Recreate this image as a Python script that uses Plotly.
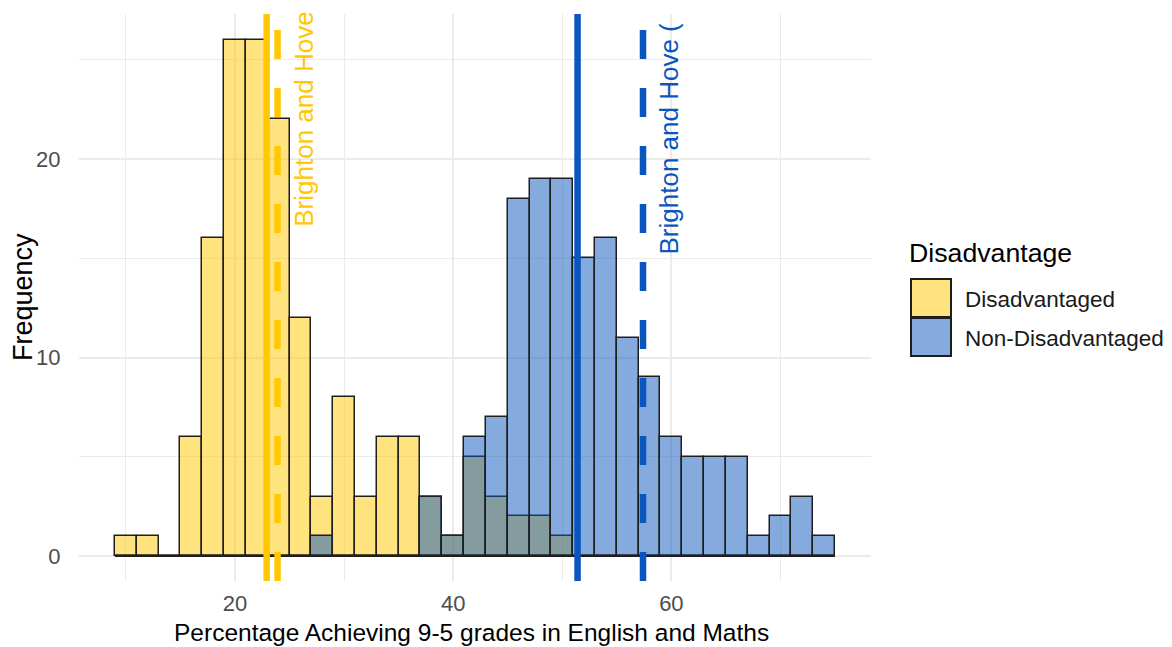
import plotly.graph_objects as go

# ---- data ----
bin_centers = [10, 12, 14, 16, 18, 20, 22, 24, 26, 28, 30, 32, 34, 36, 38, 40, 42,
               44, 46, 48, 50, 52, 54, 56, 58, 60, 62, 64, 66, 68, 70, 72, 74]
bin_width = 2
disadvantaged_counts = [1, 1, 0, 6, 16, 26, 26, 22, 12, 3, 8, 3, 6, 6, 3, 1, 5,
                        3, 2, 2, 1, 0, 0, 0, 0, 0, 0, 0, 0, 0, 0, 0, 0]
non_disadvantaged_counts = [0, 0, 0, 0, 0, 0, 0, 0, 0, 1, 0, 0, 0, 0, 3, 1, 6,
                            7, 18, 19, 19, 15, 16, 11, 9, 6, 5, 5, 5, 1, 2, 3, 1]
groups = ["Disadvantaged", "Non-Disadvantaged"]
national_means = [22.9, 51.4]      # solid lines
local_means = [23.9, 57.4]         # dashed lines (Brighton and Hove)
local_labels = ["Brighton and Hove", "Brighton and Hove ("]
label_y = [16.5, 15.1]
x_ticks = [20, 40, 60]
y_ticks = [0, 10, 20]

# ---- styles ----
FONT = "Liberation Sans, Arial, sans-serif"
line_colors = ["#FFC800", "#0A55BE"]
fill_colors = ["rgba(255,200,0,0.5)", "rgba(10,85,190,0.5)"]
outline = "#1e1e1e"
grid = "#ebebeb"

fig = go.Figure()
for name, counts, fc in zip(groups, [disadvantaged_counts, non_disadvantaged_counts], fill_colors):
    fig.add_trace(go.Bar(
        x=bin_centers, y=counts, width=bin_width, name=name,
        marker=dict(color=fc, line=dict(color=outline, width=1.5)),
        showlegend=False, hoverinfo="x+y+name"))

# zero-height bins drawn as flat outline along the baseline
fig.add_trace(go.Scatter(
    x=[bin_centers[0] - bin_width / 2, bin_centers[-1] + bin_width / 2], y=[0, 0],
    mode="lines", line=dict(color=outline, width=1.5), showlegend=False, hoverinfo="skip"))

for i in range(2):
    fig.add_shape(type="line", xref="x", yref="y domain", x0=national_means[i], x1=national_means[i],
                  y0=0, y1=1, line=dict(color=line_colors[i], width=6.5))
    fig.add_shape(type="line", xref="x", yref="y domain", x0=local_means[i], x1=local_means[i],
                  y0=0, y1=1, line=dict(color=line_colors[i], width=6.5, dash="29px,29px"))
    fig.add_annotation(x=local_means[i] + 2.4, y=label_y[i], xref="x", yref="y",
                       text=local_labels[i], textangle=-90, showarrow=False,
                       xanchor="center", yanchor="bottom",
                       font=dict(family=FONT, size=26, color=line_colors[i]))

# ---- layout geometry (page is offset by the 8px body margin) ----
OFF = 8
W, H = 1172 - OFF, 647 - OFF
L, R, T, B = 79 - OFF, 301, 14 - OFF, 66
pw, ph = W - L - R, H - T - B
def px(page_x):
    return (page_x - OFF - L) / pw
def py(page_y):
    return (H - B - (page_y - OFF)) / ph

# ---- axis titles placed as text (exact positions) ----
fig.add_annotation(x=px(471), y=py(632), xref="paper", yref="paper",
                   text="Percentage Achieving 9-5 grades in English and Maths",
                   showarrow=False, xanchor="center", yanchor="middle",
                   font=dict(family=FONT, size=24.5, color="#000000"))
fig.add_annotation(x=px(23), y=py(297), xref="paper", yref="paper", text="Frequency",
                   textangle=-90, showarrow=False, xanchor="center", yanchor="middle",
                   font=dict(family=FONT, size=27, color="#000000"))

# ---- manual legend (large keys like ggplot) ----
fig.add_annotation(x=px(907), y=py(253), xref="paper", yref="paper", text="Disadvantage",
                   showarrow=False, xanchor="left", yanchor="middle",
                   font=dict(family=FONT, size=26.7, color="#000000"))
key_tops = [279, 318]
for i in range(2):
    fig.add_shape(type="rect", xref="paper", yref="paper",
                  x0=px(911), x1=px(951), y0=py(key_tops[i]), y1=py(key_tops[i] + 38),
                  fillcolor=fill_colors[i], line=dict(color=outline, width=2))
    fig.add_annotation(x=px(963), y=py(key_tops[i] + 20), xref="paper", yref="paper",
                       text=groups[i], showarrow=False, xanchor="left", yanchor="middle",
                       font=dict(family=FONT, size=22.5, color="#1a1a1a"))

fig.update_layout(
    width=W, height=H,
    margin=dict(l=L, r=R, t=T, b=B, pad=0, autoexpand=False),
    barmode="overlay", bargap=0,
    plot_bgcolor="white", paper_bgcolor="white",
    font=dict(family=FONT),
    xaxis=dict(range=[5.7, 78.3], tickvals=x_ticks, showgrid=True, gridcolor=grid, gridwidth=1.6,
               minor=dict(dtick=10, tick0=0, showgrid=True, gridcolor=grid, gridwidth=0.8),
               zeroline=False, showline=False, ticks="outside", ticklen=3,
               tickcolor="rgba(0,0,0,0)", automargin=False,
               tickfont=dict(family=FONT, size=22, color="#4d4d4d")),
    yaxis=dict(range=[-1.25, 27.3], tickvals=y_ticks, showgrid=True, gridcolor=grid, gridwidth=1.6,
               minor=dict(dtick=5, tick0=0, showgrid=True, gridcolor=grid, gridwidth=0.8),
               zeroline=False, showline=False, ticks="outside", ticklen=13,
               tickcolor="rgba(0,0,0,0)", automargin=False,
               tickfont=dict(family=FONT, size=22, color="#4d4d4d")),
)

fig.write_html("out.html")
